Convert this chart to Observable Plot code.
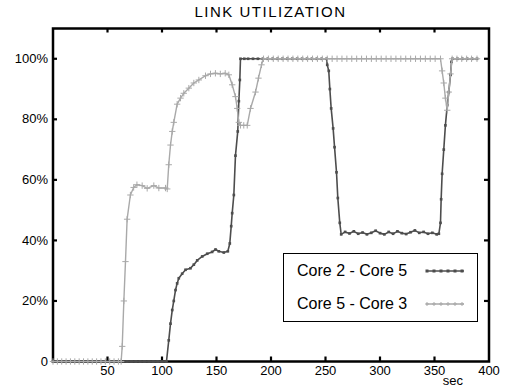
<!DOCTYPE html>
<html>
<head>
<meta charset="utf-8">
<script src="https://cdn.jsdelivr.net/npm/d3@7"></script>
<script src="https://cdn.jsdelivr.net/npm/@observablehq/plot@0.6"></script>
<style>
  html, body { margin: 0; padding: 0; background: #fff; }
  #wrap { position: relative; width: 507px; height: 392px; font-family: "Liberation Sans", Arial, sans-serif; }
  #title { position: absolute; left: 0; top: 4px; width: 541px; text-align: center; font-size: 15px; letter-spacing: 1.5px; line-height: 15px; color: #000; }
  #legend { position: absolute; left: 283px; top: 253px; width: 193px; height: 67px; border: 1px solid #000; background: #fff; }
  .lrow { position: absolute; left: 13px; font-size: 16px; line-height: 18px; color: #000; }
  #legend svg { position: absolute; left: 0; top: 0; }
</style>
</head>
<body>
<div id="wrap">
  <div id="title"></div>
  <div id="legend"></div>
</div>
<script>
const title = "LINK UTILIZATION";
const xLabel = "sec";
const seriesNames = ["Core 2 - Core 5", "Core 5 - Core 3"];
const xTicks = [50, 100, 150, 200, 250, 300, 350, 400];
const yTicks = [0, 20, 40, 60, 80, 100];
const yTickLabels = ["0", "20%", "40%", "60%", "80%", "100%"];

// Core 2 - Core 5 : [sec, utilization %]
const core25 = [
  [0,0],[4,0],[8,0],[12,0],[16,0],[20,0],[24,0],[28,0],[32,0],[36,0],[40,0],[44,0],[48,0],[52,0],
  [56,0],[60,0],[64,0],[68,0],[72,0],[76,0],[80,0],[84,0],[88,0],[92,0],[96,0],[100,0],[104.1,0],
  [106.2,7],[107.8,12.5],[109.4,17],[110.8,20],[112.4,23.6],[113.9,25.8],[115.4,27.5],[118.5,29],
  [121.6,30.3],[126.1,30.8],[129.2,32],[132.3,33.4],[136.9,34.7],[141.5,35.6],[146,36.2],[149.1,37],
  [152.1,36.4],[156.7,36],[160.4,36.4],[162.2,39],[163.5,44.7],[164.4,49],[165.9,55],[167.4,68],
  [169.5,76],[170.5,86],[171.4,93],[172,100],[175.5,100],[179,100],[183.5,100],[188,100],[192.5,100],
  [197,100],[201.5,100],[206,100],[210.5,100],[215,100],[219.5,100],[224,100],[228.5,100],[233,100],
  [237.5,100],[242,100],[246.5,100],[251,100],[251.6,98],[253,96],[254,90],[255.2,83.6],[257,77],
  [258.3,70.8],[260.1,62.5],[261.3,54],[263.1,45.8],[264.4,42],[268,42.8],[272,42.3],[276,43],
  [280,42.2],[284,42.6],[288,42],[292,42.5],[296,43.2],[300,42.4],[304,42],[308,42.8],[312,42.2],
  [316,43],[320,42.4],[324,42.1],[328,42.7],[332,43.3],[336,42.5],[340,42.8],[344,42.2],[348,42.5],
  [352,42],[354,42.2],[355.5,45.8],[356.1,53.6],[357,62],[358.5,70],[360,78],[361.7,84.7],[363.1,89],
  [364.7,94.7],[365.6,99],[366.5,100],[371,100],[375.5,100],[380,100],[384.5,100],[389,100]
];

// Core 5 - Core 3 : [sec, utilization %]
const core53 = [
  [0,0],[4,0],[8,0],[12,0],[16,0],[20,0],[24,0],[28,0],[32,0],[36,0],[40,0],[44,0],[48,0],[52,0],
  [56,0],[60,0],[62.5,0],[63.5,5],[65,20],[66.5,33],[68,47],[71,55],[74,57.5],[77,58.4],[81.8,58.1],
  [86.4,57.2],[92.5,58.1],[97.1,57.3],[103.2,57.3],[104.8,57],[106.2,65],[107.8,71.5],[109.4,76],
  [110.8,79],[113.9,85],[117,87],[120,88.6],[124.6,90.3],[129.2,92],[133.8,93],[139.9,94.4],
  [144.5,95],[149,95.2],[153.5,95],[158,95.2],[161.3,94.7],[164.4,91.4],[167.4,87.5],[169,83.6],
  [170.5,79],[172,78],[175,78],[178.2,78],[181.2,83.6],[185.8,89],[188.5,93.6],[191.3,98],[193.1,100],
  [197.6,100],[202.1,100],[206.6,100],[211.1,100],[215.6,100],[220.1,100],[224.6,100],[229.1,100],
  [233.6,100],[238.1,100],[242.6,100],[247.1,100],[251.6,100],[256.1,100],[260.6,100],[265.1,100],
  [269.6,100],[274.1,100],[278.6,100],[283.1,100],[287.6,100],[292.1,100],[296.6,100],[301.1,100],
  [305.6,100],[310.1,100],[314.6,100],[319.1,100],[323.6,100],[328.1,100],[332.6,100],[337.1,100],
  [341.6,100],[346.1,100],[350.6,100],[355.5,100],[357,96],[358.5,92],[360,87],[361.7,83],[363.1,89],
  [364.7,95],[366.2,100],[370.6,100],[375,100],[379.5,100],[384,100],[389,100]
];

const darkColor = "#4d4d4d";
const lightColor = "#a9a9a9";

document.getElementById("title").textContent = title;

const chart = Plot.plot({
  width: 507,
  height: 392,
  marginLeft: 52.5,
  marginRight: 18.5,
  marginTop: 28,
  marginBottom: 31,
  style: { fontFamily: "'Liberation Sans', Arial, sans-serif", fontSize: "13px", color: "#000", background: "transparent" },
  x: { domain: [0, 400] },
  y: { domain: [0, 110] },
  marks: [
    Plot.axisX(xTicks, { tickSize: 0, tickPadding: 4, label: null }),
    Plot.axisY(yTicks, { tickSize: 0, tickPadding: 5, label: null, tickFormat: (d) => yTickLabels[yTicks.indexOf(d)] }),
    Plot.tickX(xTicks.slice(0, -1), { x: d => d, insetTop: 328.5, stroke: "#000", strokeWidth: 2.2 }),
    Plot.tickX(xTicks.slice(0, -1), { x: d => d, insetBottom: 328.5, stroke: "#000", strokeWidth: 2.2 }),
    Plot.tickY(yTicks.slice(1), { y: d => d, insetRight: 431.5, stroke: "#000", strokeWidth: 2.2 }),
    Plot.tickY(yTicks.slice(1), { y: d => d, insetLeft: 431.5, stroke: "#000", strokeWidth: 2.2 }),
    Plot.frame({ stroke: "#000", strokeWidth: 2.5 }),
    Plot.line(core25, { x: d => d[0], y: d => d[1], stroke: darkColor, strokeWidth: 1.6 }),
    Plot.dot(core25, { x: d => d[0], y: d => d[1], symbol: "square", r: 1.5, fill: darkColor, stroke: null }),
    Plot.line(core53, { x: d => d[0], y: d => d[1], stroke: lightColor, strokeWidth: 1.4 }),
    Plot.dot(core53, { x: d => d[0], y: d => d[1], symbol: "plus", r: 2.2, stroke: lightColor, strokeWidth: 1 }),
    Plot.text([xLabel], { frameAnchor: "bottom-right", text: d => d, dx: -26, dy: 23, fontSize: 13 })
  ]
});
const wrap = document.getElementById("wrap");
chart.style.position = "absolute";
chart.style.left = "0";
chart.style.top = "0";
wrap.insertBefore(chart, document.getElementById("legend"));

// Legend
const legend = d3.select("#legend");
const rows = [
  { name: seriesNames[0], color: darkColor, kind: "square", cy: 17 },
  { name: seriesNames[1], color: lightColor, kind: "plus", cy: 50 }
];
rows.forEach(r => {
  legend.append("div").attr("class", "lrow").style("top", (r.cy - 9) + "px").text(r.name);
});
const lsvg = legend.append("svg").attr("width", 193).attr("height", 67);
rows.forEach(r => {
  const xs = d3.range(6).map(i => 143 + i * 7);
  lsvg.append("line").attr("x1", 142).attr("x2", 180).attr("y1", r.cy).attr("y2", r.cy)
    .attr("stroke", r.color).attr("stroke-width", 1.5);
  xs.forEach(x => {
    if (r.kind === "square") {
      lsvg.append("rect").attr("x", x - 1.5).attr("y", r.cy - 1.5).attr("width", 3).attr("height", 3).attr("fill", r.color);
    } else {
      lsvg.append("path").attr("d", `M${x - 2},${r.cy}h4M${x},${r.cy - 2}v4`).attr("stroke", r.color).attr("stroke-width", 1);
    }
  });
});
</script>
</body>
</html>
